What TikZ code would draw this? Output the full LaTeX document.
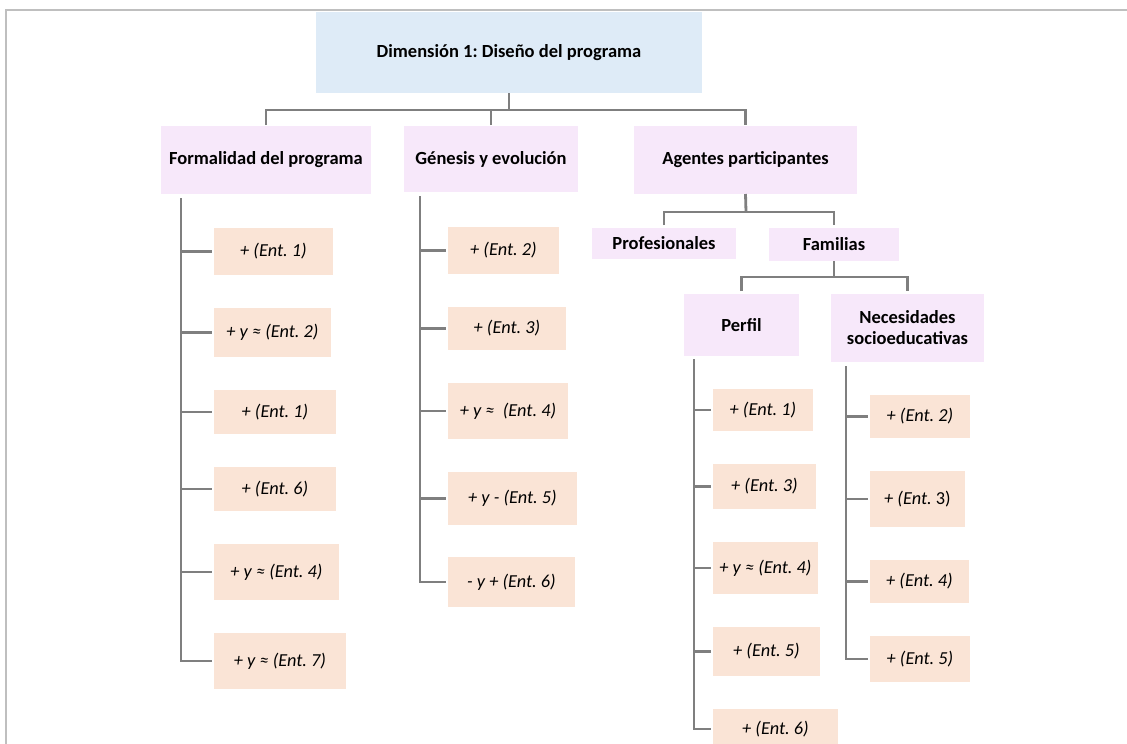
\documentclass[tikz,border=0pt]{standalone}
\usepackage{fontspec}
\setmainfont{Carlito}
\frenchspacing
\definecolor{topblue}{HTML}{DEEBF7}
\definecolor{lilac}{HTML}{F7E8FA}
\definecolor{peach}{HTML}{FAE4D6}
\definecolor{conngray}{HTML}{7F7F7F}
\definecolor{framegray}{HTML}{BFBFBF}
% box given by its left, right, top and bottom edges
\newcommand\pbox[7]{%
  \node[#6, minimum width={(#3)-(#2)}, minimum height={(#5)-(#4)}]
    (#1) at ({((#2)+(#3))/2},{((#4)+(#5))/2}) {#7};}
\tikzset{
  base/.style={inner sep=0pt, outer sep=0pt, align=center},
  topbox/.style={base, fill=topblue, font=\fontsize{18.5}{21}\selectfont\bfseries},
  headbox/.style={base, fill=lilac, font=\fontsize{18.5}{21}\selectfont\bfseries},
  leafbox/.style={base, fill=peach, font=\fontsize{18.3}{21}\selectfont\itshape},
  conn/.style={draw=conngray, line width=2.8pt},
}
\begin{document}
\begin{tikzpicture}[x=1pt,y=-1pt]
\useasboundingbox (0,0) rectangle (1127,744);
% page frame
\draw[framegray, line width=2pt] (6,744) -- (6,10) -- (1127,10);

% main dimension and its three categories
\pbox{top}{316}{702}{12}{93}{topbox}{Dimensión 1: Diseño del programa}
\pbox{formal}{161}{371}{126}{194}{headbox}{Formalidad del programa}
\pbox{genesis}{404}{578}{126}{192}{headbox}{Génesis y evolución}
\pbox{agentes}{634}{857}{126}{194}{headbox}{Agentes participantes}

% agents and families
\pbox{prof}{592}{736}{228}{259}{headbox}{Profesionales}
\pbox{fam}{769}{899}{228}{261}{headbox}{Familias}
\pbox{perfil}{684}{799}{294}{356}{headbox}{Perfil}
\pbox{nec}{831}{984}{294}{362}{headbox}{Necesidades\\socioeducativas}

% formality of the programme
\pbox{f1}{214}{333}{228}{275}{leafbox}{+ (Ent. 1)}
\pbox{f2}{214}{331}{308}{357}{leafbox}{+ y ≈ (Ent. 2)}
\pbox{f3}{214}{336}{390}{434}{leafbox}{+ (Ent. 1)}
\pbox{f4}{214}{336}{467}{511}{leafbox}{+ (Ent. 6)}
\pbox{f5}{214}{339}{544}{600}{leafbox}{+ y ≈ (Ent. 4)}
\pbox{f6}{214}{346}{633}{689}{leafbox}{+ y ≈ (Ent. 7)}

% genesis and evolution
\pbox{g1}{448}{559}{227}{274}{leafbox}{+ (Ent. 2)}
\pbox{g2}{448}{566}{307}{350}{leafbox}{+ (Ent. 3)}
\pbox{g3}{448}{568}{383}{439}{leafbox}{+ y ≈ \ (Ent. 4)}
\pbox{g4}{448}{577}{472}{525}{leafbox}{+ y - (Ent. 5)}
\pbox{g5}{448}{575}{557}{607}{leafbox}{- y + (Ent. 6)}

% profile
\pbox{p1}{713}{813}{389}{431}{leafbox}{+ (Ent. 1)}
\pbox{p2}{713}{816}{464}{509}{leafbox}{+ (Ent. 3)}
\pbox{p3}{713}{818}{542}{594}{leafbox}{+ y ≈ (Ent. 4)}
\pbox{p4}{713}{820}{627}{676}{leafbox}{+ (Ent. 5)}
\pbox{p5}{713}{838}{709}{749}{leafbox}{+ (Ent. 6)}

% socio-educational needs
\pbox{n1}{870}{970}{395}{438}{leafbox}{+ (Ent. 2)}
\pbox{n2}{870}{965}{471}{527}{leafbox}{+ (Ent.\upshape\ 3)}
\pbox{n3}{870}{969}{560}{603}{leafbox}{+ (Ent. 4)}
\pbox{n4}{870}{970}{636}{682}{leafbox}{+ (Ent. 5)}

% bus lines between levels
\coordinate (bus1) at (509,110);
\coordinate (bus2) at (746,212);
\coordinate (bus3) at (834,277);
\draw[conn] (top.south) -- (bus1);
\draw[conn] ([yshift=1pt]formal.north) |- (bus1) -| ([yshift=1pt]agentes.north);
\draw[conn] ([yshift=1pt]genesis.north) -- ([yshift=-1.4pt]genesis.north |- bus1);
\draw[conn] (agentes.south) -- (bus2);
\draw[conn] ([yshift=3pt]prof.north) |- (bus2) -| ([yshift=3pt]fam.north);
\draw[conn] (fam.south) -- (bus3);
\draw[conn] ([yshift=3pt]perfil.north) |- (bus3) -| ([yshift=3pt]nec.north);

% vertical trunks with side branches
\coordinate (ft) at (181,198);
\coordinate (gt) at (420,196);
\coordinate (pt) at (694,359);
\coordinate (nt) at (846,366);
\draw[conn] (ft) |- ([xshift=-2pt]f6.west);
\foreach \b in {f1,f2,f3,f4,f5}
  \draw[conn] ([xshift=1.4pt]ft |- \b.west) -- ([xshift=-2pt]\b.west);
\draw[conn] (gt) |- ([xshift=-2pt]g5.west);
\foreach \b in {g1,g2,g3,g4}
  \draw[conn] ([xshift=1.4pt]gt |- \b.west) -- ([xshift=-2pt]\b.west);
\draw[conn] (pt) |- ([xshift=-2pt]p5.west);
\foreach \b in {p1,p2,p3,p4}
  \draw[conn] ([xshift=1.4pt]pt |- \b.west) -- ([xshift=-2pt]\b.west);
\draw[conn] (nt) |- ([xshift=-2pt]n4.west);
\foreach \b in {n1,n2,n3}
  \draw[conn] ([xshift=1.4pt]nt |- \b.west) -- ([xshift=-2pt]\b.west);
\end{tikzpicture}
\end{document}
